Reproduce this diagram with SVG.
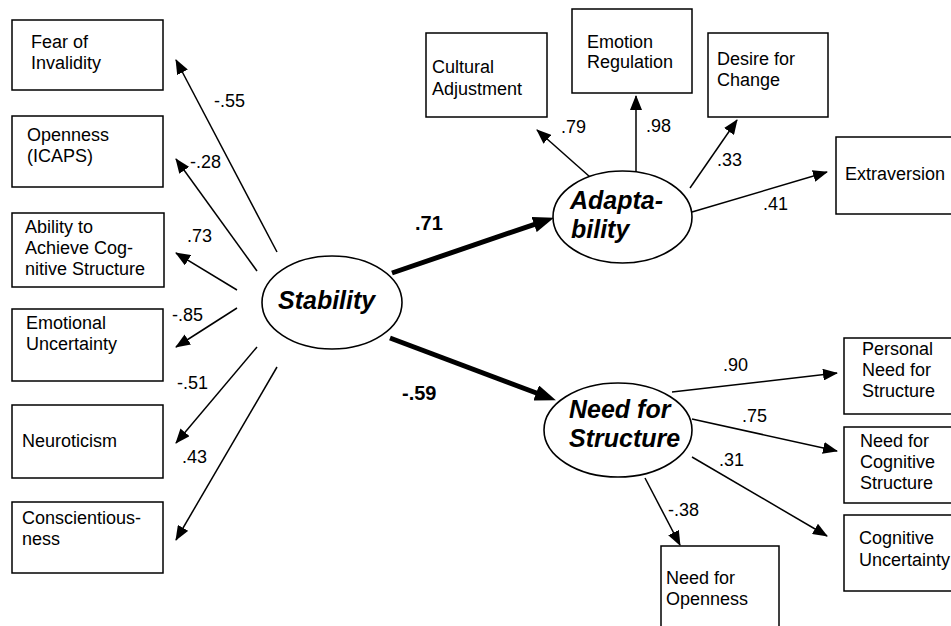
<svg xmlns="http://www.w3.org/2000/svg" width="951" height="626" viewBox="0 0 951 626">
<defs>
<style>
.box{fill:#fff;stroke:#000;stroke-width:1.5}
.ell{fill:#fff;stroke:#000;stroke-width:1.6}
.t{font-family:"Liberation Sans",Arial,sans-serif;font-size:18px;fill:#000}
.lv{font-family:"Liberation Sans",Arial,sans-serif;font-size:25px;font-weight:bold;font-style:italic;fill:#000}
.bl{font-family:"Liberation Sans",Arial,sans-serif;font-size:20px;font-weight:bold;fill:#000}
.c{stroke:#000;stroke-width:1.5;fill:none;marker-end:url(#ah)}
.ct{stroke:#000;stroke-width:5;fill:none;marker-end:url(#ahb)}
</style>
<marker id="ah" markerUnits="userSpaceOnUse" markerWidth="15" markerHeight="12" refX="14" refY="6" orient="auto">
<path d="M0,0 L15,6 L0,12 z" fill="#000"/>
</marker>
<marker id="ahb" markerUnits="userSpaceOnUse" markerWidth="21" markerHeight="16" refX="13" refY="8" orient="auto">
<path d="M0,0 L21,8 L0,16 z" fill="#000"/>
</marker>
</defs>
<rect width="951" height="626" fill="#fff"/>
<g id="connectors">
<line class="c" x1="277" y1="252" x2="176" y2="60"/>
<line class="c" x1="257" y1="271" x2="176" y2="159"/>
<line class="c" x1="237" y1="290" x2="176" y2="253"/>
<line class="c" x1="237" y1="308" x2="176" y2="347"/>
<line class="c" x1="257" y1="347" x2="176" y2="443"/>
<line class="c" x1="277" y1="367" x2="176" y2="540"/>
<line class="c" x1="590" y1="177" x2="537" y2="130"/>
<line class="c" x1="636" y1="171" x2="636" y2="96"/>
<line class="c" x1="690" y1="188" x2="737" y2="120"/>
<line class="c" x1="692" y1="212" x2="827" y2="172"/>
<line class="c" x1="672" y1="392" x2="837" y2="373"/>
<line class="c" x1="692" y1="419" x2="837" y2="451"/>
<line class="c" x1="692" y1="457" x2="827" y2="536"/>
<line class="c" x1="645" y1="478" x2="680" y2="545"/>
<line class="ct" x1="392" y1="273" x2="546.4" y2="220.3"/>
<line class="ct" x1="390" y1="338" x2="548.4" y2="397.5"/>
<text class="t" x="214" y="107">-.55</text>
<text class="t" x="190" y="168">-.28</text>
<text class="t" x="187" y="242">.73</text>
<text class="t" x="172" y="321">-.85</text>
<text class="t" x="177" y="389">-.51</text>
<text class="t" x="182" y="463">.43</text>
<text class="t" x="561" y="133">.79</text>
<text class="t" x="646" y="132">.98</text>
<text class="t" x="717" y="166">.33</text>
<text class="t" x="763" y="210">.41</text>
<text class="t" x="723" y="371">.90</text>
<text class="t" x="742" y="422">.75</text>
<text class="t" x="719" y="466">.31</text>
<text class="t" x="668" y="516">-.38</text>
<text class="bl" x="415" y="230">.71</text>
<text class="bl" x="402" y="400">-.59</text>
</g>
<g id="fear-of-invalidity">
<rect class="box" x="12" y="20" width="151" height="70"/>
<text class="t" x="31" y="48">Fear of</text>
<text class="t" x="31" y="69">Invalidity</text>
</g>
<g id="openness-icaps">
<rect class="box" x="12" y="116" width="151" height="71"/>
<text class="t" x="27" y="141">Openness</text>
<text class="t" x="27" y="162">(ICAPS)</text>
</g>
<g id="ability">
<rect class="box" x="12" y="213" width="152" height="74"/>
<text class="t" x="25" y="233">Ability to</text>
<text class="t" x="25" y="254">Achieve Cog-</text>
<text class="t" x="25" y="275">nitive Structure</text>
</g>
<g id="emotional-uncertainty">
<rect class="box" x="12" y="309" width="151" height="72"/>
<text class="t" x="26" y="329">Emotional</text>
<text class="t" x="26" y="350">Uncertainty</text>
</g>
<g id="neuroticism">
<rect class="box" x="12" y="405" width="151" height="73"/>
<text class="t" x="22" y="447">Neuroticism</text>
</g>
<g id="conscientiousness">
<rect class="box" x="12" y="502" width="151" height="71"/>
<text class="t" x="22" y="524">Conscientious-</text>
<text class="t" x="22" y="545">ness</text>
</g>
<g id="cultural-adjustment">
<rect class="box" x="426" y="33" width="121" height="84"/>
<text class="t" x="432" y="73">Cultural</text>
<text class="t" x="432" y="95">Adjustment</text>
</g>
<g id="emotion-regulation">
<rect class="box" x="572" y="9" width="120" height="84"/>
<text class="t" x="587" y="48">Emotion</text>
<text class="t" x="587" y="68">Regulation</text>
</g>
<g id="desire-for-change">
<rect class="box" x="708" y="33" width="120" height="84"/>
<text class="t" x="717" y="65">Desire for</text>
<text class="t" x="717" y="86">Change</text>
</g>
<g id="extraversion">
<rect class="box" x="836" y="137" width="130" height="77"/>
<text class="t" x="845" y="180">Extraversion</text>
</g>
<g id="personal-need-for-structure">
<rect class="box" x="844" y="338" width="120" height="76"/>
<text class="t" x="862" y="355">Personal</text>
<text class="t" x="862" y="376">Need for</text>
<text class="t" x="862" y="397">Structure</text>
</g>
<g id="need-for-cognitive-structure">
<rect class="box" x="844" y="427" width="120" height="76"/>
<text class="t" x="860" y="447">Need for</text>
<text class="t" x="860" y="468">Cognitive</text>
<text class="t" x="860" y="489">Structure</text>
</g>
<g id="cognitive-uncertainty">
<rect class="box" x="844" y="515" width="120" height="76"/>
<text class="t" x="859" y="544">Cognitive</text>
<text class="t" x="859" y="566">Uncertainty</text>
</g>
<g id="need-for-openness">
<rect class="box" x="661" y="546" width="118" height="100"/>
<text class="t" x="666" y="584">Need for</text>
<text class="t" x="666" y="605">Openness</text>
</g>
<g id="stability">
<ellipse class="ell" cx="332" cy="302.5" rx="70" ry="46.5"/>
<text class="lv" x="278" y="309">Stability</text>
</g>
<g id="adaptability">
<ellipse class="ell" cx="622.5" cy="217" rx="69.5" ry="46"/>
<text class="lv" x="570" y="209">Adapta-</text>
<text class="lv" x="571" y="238">bility</text>
</g>
<g id="need-for-structure">
<ellipse class="ell" cx="618" cy="430" rx="74" ry="47"/>
<text class="lv" x="569" y="418">Need for</text>
<text class="lv" x="569" y="447">Structure</text>
</g>
</svg>
